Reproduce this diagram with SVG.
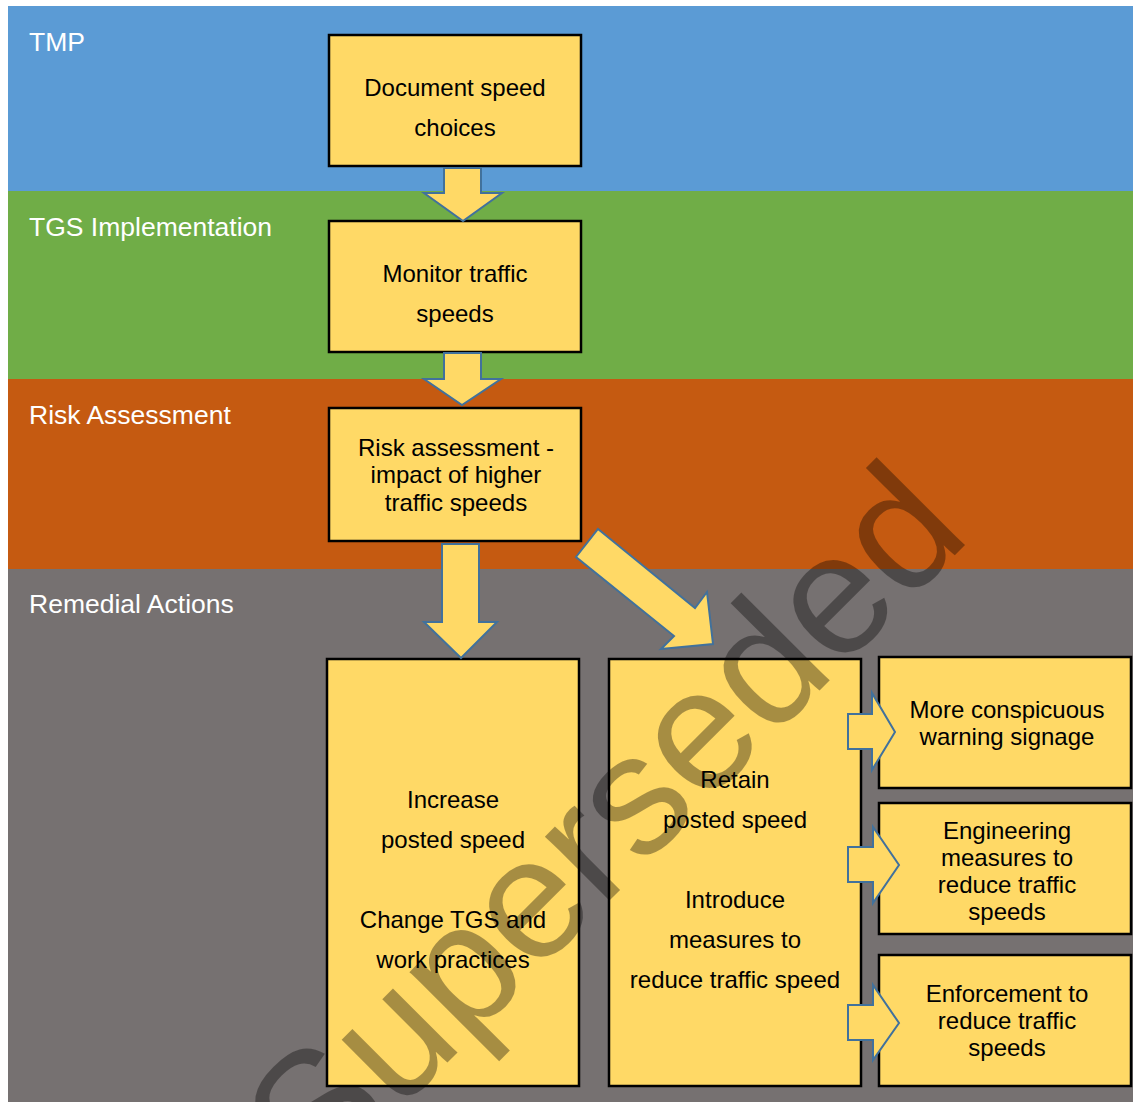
<svg xmlns="http://www.w3.org/2000/svg" width="1133" height="1102" viewBox="0 0 1133 1102">
<style>
.band-label{font-family:"Liberation Sans",Arial,sans-serif;font-size:26.5px;fill:#ffffff}
.box{fill:#FFD966;stroke:#000000;stroke-width:2.5}
.t{font-family:"Liberation Sans",Arial,sans-serif;font-size:24px;fill:#000000;text-anchor:middle}
.arrow{fill:#FFD966;stroke:#41719C;stroke-width:2;stroke-linejoin:miter}
.wm{font-family:"Liberation Sans",Arial,sans-serif;font-size:172px;fill:#000000;fill-opacity:0.35}
</style>
<rect x="0" y="0" width="1133" height="1102" fill="#ffffff"/>
<g id="band-tmp">
<rect x="8" y="6" width="1125" height="185" fill="#5B9BD5"/>
<text class="band-label" x="29" y="51">TMP</text>
</g>
<g id="band-tgs">
<rect x="8" y="191" width="1125" height="188" fill="#70AD47"/>
<text class="band-label" x="29" y="236">TGS Implementation</text>
</g>
<g id="band-risk">
<rect x="8" y="379" width="1125" height="190" fill="#C55A11"/>
<text class="band-label" x="29" y="424">Risk Assessment</text>
</g>
<g id="band-remedial">
<rect x="8" y="569" width="1125" height="533" fill="#767171"/>
<text class="band-label" x="29" y="613">Remedial Actions</text>
</g>
<g id="node-document">
<rect class="box" x="329" y="35" width="252" height="131"/>
<text class="t" x="455" y="96">Document speed</text>
<text class="t" x="455" y="136">choices</text>
</g>
<g id="node-monitor">
<rect class="box" x="329" y="221" width="252" height="131"/>
<text class="t" x="455" y="282">Monitor traffic</text>
<text class="t" x="455" y="322">speeds</text>
</g>
<g id="node-risk">
<rect class="box" x="329" y="408" width="252" height="133"/>
<text class="t" x="456" y="456">Risk assessment -</text>
<text class="t" x="456" y="483">impact of higher</text>
<text class="t" x="456" y="511">traffic speeds</text>
</g>
<g id="node-increase">
<rect class="box" x="327" y="659" width="252" height="427"/>
<text class="t" x="453" y="808">Increase</text>
<text class="t" x="453" y="848">posted speed</text>
<text class="t" x="453" y="928">Change TGS and</text>
<text class="t" x="453" y="968">work practices</text>
</g>
<g id="node-retain">
<rect class="box" x="609" y="659" width="252" height="427"/>
<text class="t" x="735" y="788">Retain</text>
<text class="t" x="735" y="828">posted speed</text>
<text class="t" x="735" y="908">Introduce</text>
<text class="t" x="735" y="948">measures to</text>
<text class="t" x="735" y="988">reduce traffic speed</text>
</g>
<g id="node-signage">
<rect class="box" x="879" y="657" width="252" height="131"/>
<text class="t" x="1007" y="718">More conspicuous</text>
<text class="t" x="1007" y="745">warning signage</text>
</g>
<g id="node-engineering">
<rect class="box" x="879" y="803" width="252" height="131"/>
<text class="t" x="1007" y="839">Engineering</text>
<text class="t" x="1007" y="866">measures to</text>
<text class="t" x="1007" y="893">reduce traffic</text>
<text class="t" x="1007" y="920">speeds</text>
</g>
<g id="node-enforcement">
<rect class="box" x="879" y="955" width="252" height="131"/>
<text class="t" x="1007" y="1002">Enforcement to</text>
<text class="t" x="1007" y="1029">reduce traffic</text>
<text class="t" x="1007" y="1056">speeds</text>
</g>
<g id="connectors">
<polygon class="arrow" points="444,168 481,168 481,193 502,193 463,221 424,193 444,193"/>
<polygon class="arrow" points="444,353 481,353 481,379 501,379 462,405 424,379 444,379"/>
<polygon class="arrow" points="442,544 479,544 479,622 497,622 461,658 424,622 442,622"/>
<polygon class="arrow" points="598,529 695,608 707,592 713,644 661,649 674,636 576,557"/>
<polygon class="arrow" points="848,714 872,714 872,693 895,732 872,770 872,749 848,749"/>
<polygon class="arrow" points="848,847 873,847 873,827 899,865 873,903 873,882 848,882"/>
<polygon class="arrow" points="848,1005 873,1005 873,985 899,1023 873,1060 873,1040 848,1040"/>
</g>
<text class="wm" transform="translate(317,1193) rotate(-45)" x="0" y="0">Superseded</text>
</svg>
